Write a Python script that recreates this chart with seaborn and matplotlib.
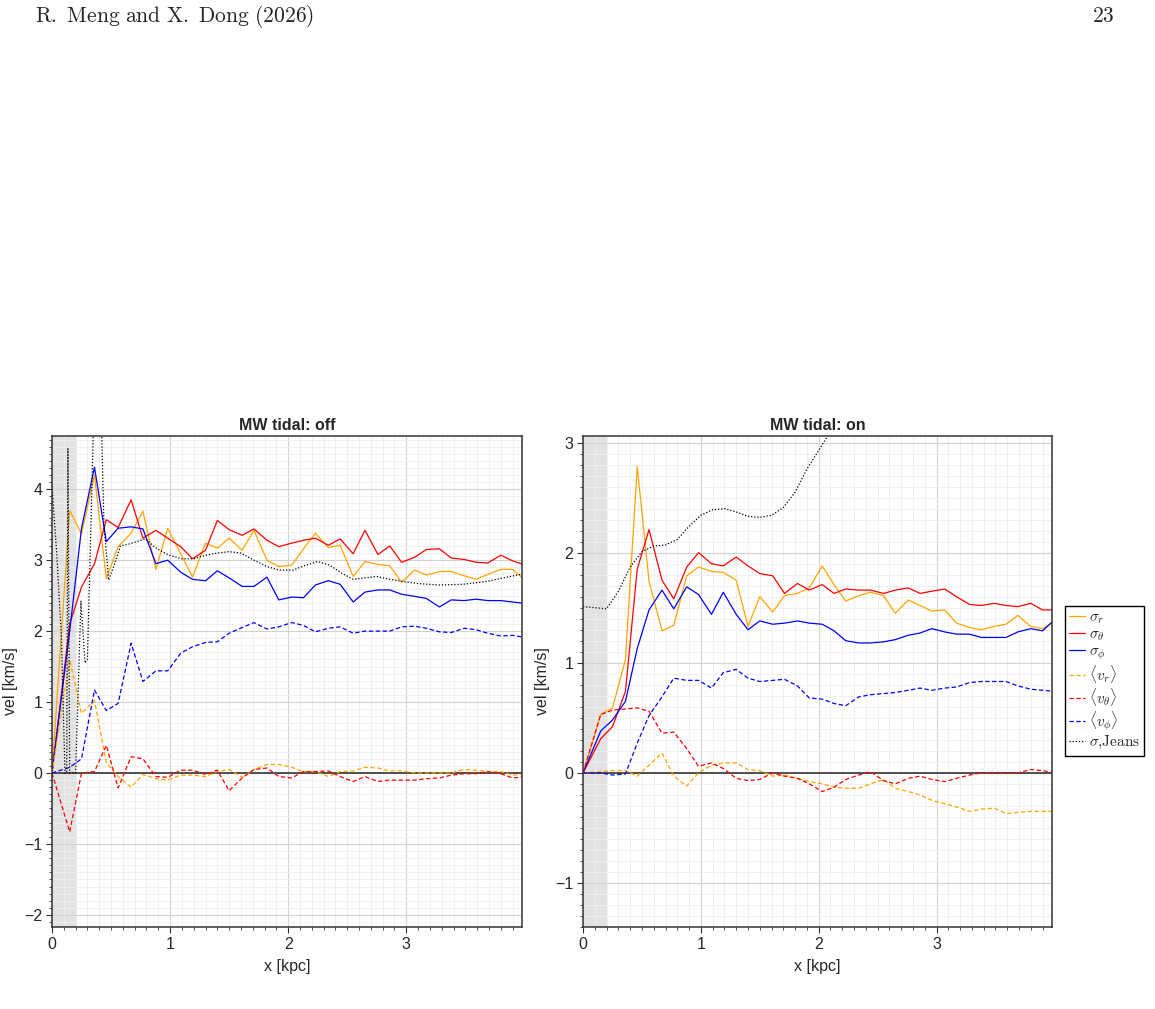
"""
Velocity dispersion / mean velocity profiles, MW tidal field off vs on
"""

import pandas as pd
import seaborn as sns
import matplotlib.pyplot as plt
from matplotlib.ticker import MultipleLocator

sns.set_style('ticks')
plt.rcParams['font.family'] = ['Liberation Sans', 'DejaVu Sans']
plt.rcParams['mathtext.fontset'] = 'cm'

# Radial bins (kpc)

x = [0, 0.15, 0.25, 0.36, 0.46, 0.56, 0.67, 0.77, 0.88, 0.98, 1.09, 1.19, 1.30,
     1.40, 1.50, 1.61, 1.71, 1.82, 1.92, 2.03, 2.13, 2.23, 2.34, 2.44, 2.55,
     2.65, 2.76, 2.86, 2.96, 3.07, 3.17, 3.28, 3.38, 3.49, 3.59, 3.69, 3.80,
     3.90, 4.01]

# MW tidal: off

off_sig_r = [0, 3.70, 3.37, 4.20, 2.74, 3.19, 3.38, 3.69, 2.87, 3.45, 3.09, 2.76,
             3.24, 3.17, 3.31, 3.14, 3.42, 3.00, 2.91, 2.93, 3.16, 3.38, 3.18,
             3.21, 2.77, 2.98, 2.94, 2.92, 2.69, 2.86, 2.79, 2.84, 2.84, 2.78,
             2.73, 2.80, 2.87, 2.87, 2.71]
off_sig_t = [0, 2.10, 2.62, 2.95, 3.57, 3.46, 3.85, 3.31, 3.42, 3.31, 3.19, 3.02,
             3.14, 3.56, 3.43, 3.35, 3.44, 3.28, 3.19, 3.24, 3.28, 3.31, 3.21,
             3.30, 3.09, 3.42, 3.08, 3.20, 2.97, 3.04, 3.15, 3.16, 3.03, 3.01,
             2.97, 2.96, 3.07, 2.99, 2.93]
off_sig_p = [0, 2.00, 3.45, 4.31, 3.26, 3.45, 3.47, 3.44, 2.95, 3.00, 2.83, 2.73,
             2.71, 2.85, 2.75, 2.63, 2.63, 2.76, 2.44, 2.48, 2.47, 2.65, 2.71,
             2.66, 2.41, 2.55, 2.58, 2.58, 2.52, 2.49, 2.46, 2.34, 2.44, 2.43,
             2.45, 2.43, 2.43, 2.41, 2.39]
off_v_r = [0, 1.60, 0.84, 1.02, 0.15, -0.05, -0.20, -0.02, -0.08, -0.10, -0.03,
           -0.03, -0.05, 0.02, 0.05, -0.06, 0.05, 0.12, 0.12, 0.08, 0.02, 0.02,
           -0.05, 0.02, 0.03, 0.08, 0.07, 0.03, 0.03, 0.00, 0.00, 0.00, 0.00,
           0.05, 0.04, 0.02, 0.02, -0.03, -0.01]
off_v_t = [0, -0.83, 0.00, 0.02, 0.39, -0.21, 0.23, 0.20, -0.05, -0.06, 0.04, 0.04,
           -0.02, 0.04, -0.25, -0.07, 0.05, 0.07, -0.05, -0.07, 0.02, 0.02, 0.03,
           -0.05, -0.12, -0.05, -0.12, -0.10, -0.10, -0.10, -0.08, -0.07, -0.03,
           -0.01, -0.01, 0.02, -0.01, -0.07, -0.05]
off_v_p = [0, 0.08, 0.20, 1.17, 0.88, 0.98, 1.83, 1.29, 1.44, 1.44, 1.69, 1.78,
           1.84, 1.85, 1.97, 2.05, 2.12, 2.03, 2.06, 2.12, 2.08, 1.99, 2.04, 2.06,
           1.97, 2.00, 2.00, 2.00, 2.06, 2.07, 2.04, 1.99, 1.98, 2.04, 2.02, 1.97,
           1.93, 1.94, 1.91]
off_jeans_x = [0.0, 0.04, 0.08, 0.11, 0.125, 0.135, 0.15, 0.2, 0.245, 0.28, 0.3,
               0.33, 0.36, 0.41, 0.44, 0.48, 0.52, 0.58, 0.66, 0.79, 0.89, 0.99,
               1.1, 1.2, 1.3, 1.4, 1.5, 1.6, 1.71, 1.82, 1.92, 2.04, 2.15, 2.25,
               2.35, 2.45, 2.55, 2.65, 2.75, 2.86, 2.97, 3.1, 3.28, 3.48, 3.68,
               3.88, 4.0]
off_jeans = [4.05, 3.10, 1.90, 0.0, 0.0, 4.57, 0.0, 0.0, 2.42, 1.55, 1.60, 3.50,
             5.50, 5.50, 3.50, 2.72, 2.90, 3.20, 3.23, 3.30, 3.16, 3.07, 3.02,
             3.02, 3.07, 3.10, 3.12, 3.10, 3.00, 2.91, 2.86, 2.86, 2.93, 2.98,
             2.93, 2.82, 2.73, 2.75, 2.77, 2.73, 2.70, 2.67, 2.65, 2.66, 2.70,
             2.77, 2.81]

# MW tidal: on

on_sig_r = [0, 0.53, 0.59, 1.03, 2.78, 1.74, 1.29, 1.34, 1.79, 1.87, 1.83, 1.82,
            1.75, 1.33, 1.60, 1.46, 1.61, 1.63, 1.68, 1.88, 1.71, 1.56, 1.61,
            1.64, 1.61, 1.45, 1.57, 1.52, 1.47, 1.48, 1.36, 1.32, 1.30, 1.33,
            1.35, 1.43, 1.33, 1.31, 1.38]
on_sig_t = [0, 0.31, 0.42, 0.74, 1.85, 2.21, 1.75, 1.58, 1.87, 2.00, 1.90, 1.88,
            1.96, 1.88, 1.81, 1.79, 1.63, 1.72, 1.66, 1.71, 1.63, 1.67, 1.66,
            1.66, 1.63, 1.66, 1.68, 1.63, 1.65, 1.67, 1.60, 1.53, 1.52, 1.54,
            1.52, 1.51, 1.54, 1.48, 1.48]
on_sig_p = [0, 0.38, 0.48, 0.65, 1.13, 1.48, 1.66, 1.49, 1.69, 1.62, 1.44, 1.64,
            1.44, 1.30, 1.38, 1.35, 1.36, 1.38, 1.36, 1.35, 1.29, 1.20, 1.18,
            1.18, 1.19, 1.21, 1.25, 1.27, 1.31, 1.28, 1.26, 1.26, 1.23, 1.23,
            1.23, 1.28, 1.31, 1.29, 1.40]
on_v_r = [0, 0.01, 0.02, 0.02, -0.03, 0.07, 0.18, -0.03, -0.12, 0.00, 0.07, 0.09,
          0.09, 0.03, 0.02, -0.03, -0.02, -0.05, -0.08, -0.10, -0.13, -0.14,
          -0.14, -0.10, -0.06, -0.14, -0.17, -0.20, -0.25, -0.28, -0.31, -0.35,
          -0.33, -0.32, -0.37, -0.36, -0.35, -0.35, -0.35]
on_v_t = [0, 0.53, 0.57, 0.58, 0.59, 0.56, 0.36, 0.37, 0.22, 0.06, 0.09, 0.04,
          -0.05, -0.07, -0.06, 0.00, -0.03, -0.05, -0.10, -0.17, -0.13, -0.06,
          -0.02, 0.01, -0.07, -0.10, -0.05, -0.03, -0.06, -0.08, -0.05, -0.02,
          0.00, 0.00, 0.00, 0.00, 0.03, 0.02, 0.00]
on_v_p = [0, 0.00, -0.02, -0.01, 0.27, 0.52, 0.69, 0.86, 0.84, 0.84, 0.77, 0.91,
          0.94, 0.86, 0.83, 0.84, 0.85, 0.79, 0.68, 0.67, 0.63, 0.61, 0.69, 0.71,
          0.72, 0.73, 0.75, 0.77, 0.75, 0.77, 0.78, 0.82, 0.83, 0.83, 0.83, 0.79,
          0.76, 0.75, 0.74]
on_jeans_x = [0, 0.1, 0.2, 0.3, 0.4, 0.5, 0.6, 0.7, 0.8, 0.9, 1.0, 1.1, 1.2, 1.3,
              1.4, 1.5, 1.6, 1.7, 1.8, 1.9, 2.0, 2.1, 2.2]
on_jeans = [1.51, 1.50, 1.49, 1.65, 1.87, 2.01, 2.06, 2.07, 2.12, 2.24, 2.34,
            2.39, 2.40, 2.37, 2.33, 2.32, 2.34, 2.41, 2.55, 2.76, 2.93, 3.10, 3.30]

# Series styling

labels = [r'$\sigma_r$', r'$\sigma_\theta$', r'$\sigma_\phi$',
          r'$\langle v_r\rangle$', r'$\langle v_\theta\rangle$',
          r'$\langle v_\phi\rangle$', r'$\sigma{,}\mathrm{Jeans}$']
colors = ['orange', 'red', 'blue', 'orange', 'red', 'blue', 'black']
dash = (0, (3.5, 2))
dot = (0, (1, 1.5))
styles = ['-', '-', '-', dash, dash, dash, dot]

panels = [
    ('MW tidal: off', [off_sig_r, off_sig_t, off_sig_p, off_v_r, off_v_t, off_v_p],
     off_jeans_x, off_jeans, (-2.17, 4.75)),
    ('MW tidal: on', [on_sig_r, on_sig_t, on_sig_p, on_v_r, on_v_t, on_v_p],
     on_jeans_x, on_jeans, (-1.4, 3.06)),
]

fig = plt.figure(figsize=(11.55, 10.09), dpi=100)
axes = [fig.add_axes([0.045, 0.0813, 0.407, 0.4866]),
        fig.add_axes([0.5048, 0.0813, 0.406, 0.4866])]

for ax, (title, profiles, jx, jy, ylim) in zip(axes, panels):

    ax.axvspan(0, 0.2, color='#e2e2e2', zorder=0, lw=0)
    ax.axhline(0, color='#444444', lw=1.3, zorder=1.5)

    for i, prof in enumerate(profiles):
        df = pd.DataFrame({'x': x, 'vel': prof})
        sns.lineplot(data=df, x='x', y='vel', ax=ax, color=colors[i],
                     linestyle=styles[i], lw=0.9, label=labels[i],
                     estimator=None, sort=False)
    dfj = pd.DataFrame({'x': jx, 'vel': jy})
    sns.lineplot(data=dfj, x='x', y='vel', ax=ax, color=colors[6],
                 linestyle=styles[6], lw=0.9, label=labels[6],
                 estimator=None, sort=False)

    ax.set_xlim(0, 3.98)
    ax.set_ylim(*ylim)
    ax.xaxis.set_major_locator(MultipleLocator(1))
    ax.xaxis.set_minor_locator(MultipleLocator(0.1))
    ax.yaxis.set_major_locator(MultipleLocator(1))
    ax.yaxis.set_minor_locator(MultipleLocator(0.1))
    ax.set_axisbelow(True)
    ax.grid(which='major', color='#d2d2d2', lw=0.8)
    ax.grid(which='minor', color='#eeeeee', lw=0.6)
    ax.tick_params(which='major', direction='out', length=4, width=0.8,
                   labelsize=11.5, color='#333333', pad=3)
    ax.tick_params(which='minor', direction='out', length=2.2, width=0.6,
                   color='#333333')
    for s in ax.spines.values():
        s.set_color('#333333')
        s.set_linewidth(1.1)
    ax.set_title(title, fontweight='bold', fontsize=11.5, pad=4)
    ax.set_xlabel('x [kpc]', fontsize=11.5, labelpad=5)
    ax.set_ylabel('vel [km/s]', fontsize=11.5, labelpad=4)
    if ax.get_legend() is not None:
        ax.get_legend().remove()

handles, labs = axes[1].get_legend_handles_labels()
fig.legend(handles, labs, loc='upper left', bbox_to_anchor=(0.922, 0.3994),
           frameon=True, fancybox=False, edgecolor='black', framealpha=1,
           fontsize=11, handlelength=1.0, handletextpad=0.25,
           labelspacing=0.08, borderpad=0.3, borderaxespad=0)

# Page header

fig.text(35 / 1155, 1 - 17 / 1009, r'$\mathrm{R.\ Meng\ and\ X.\ Dong\ (2026)}$',
         fontsize=15.5, va='center', ha='left')
fig.text(1115 / 1155, 1 - 17 / 1009, r'$\mathrm{23}$',
         fontsize=15.5, va='center', ha='right')

plt.savefig('out.png', dpi=100)
